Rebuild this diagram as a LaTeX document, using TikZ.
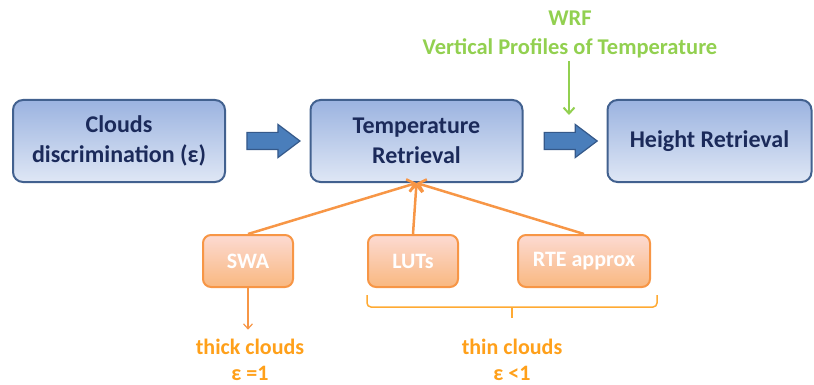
\documentclass[tikz,border=0pt]{standalone}
\usepackage{fontspec}
\setmainfont{Carlito}
\usepackage{tikz}
\usepackage{xcolor}
\usetikzlibrary{arrows.meta,calc,shapes.arrows}
\definecolor{BleuBord}{HTML}{42618F}
\definecolor{BleuHaut}{HTML}{9BB3E0}
\definecolor{BleuBas}{HTML}{DFE7F5}
\definecolor{BleuTexte}{HTML}{1B2A5A}
\definecolor{BleuFleche}{HTML}{4A7EBB}
\definecolor{BleuFlecheBord}{HTML}{35598A}
\definecolor{OrangeBord}{HTML}{F79646}
\definecolor{OrangeHaut}{HTML}{FCDAD2}
\definecolor{OrangeMilieu}{HTML}{F58F40}
\definecolor{OrangeBas}{HTML}{F9B880}
\definecolor{OrangeTexte}{HTML}{FFA01A}
\definecolor{OrangeAccolade}{HTML}{FFAA33}
\definecolor{Vert}{HTML}{92D050}
\tikzset{
BlueBox/.style={
 draw=BleuBord, 
 line width=2pt, 
 rounded corners=10pt, 
 top color=BleuHaut, 
 bottom color=BleuBas, 
 minimum height=82pt, 
 text=BleuTexte, 
 font=\bfseries\fontsize{24}{30}\selectfont, 
 align=center
 },
OrangeBox/.style={
 draw=OrangeBord, 
 line width=2pt, 
 rounded corners=8pt, 
 top color=OrangeHaut, 
 middle color=OrangeMilieu, 
 bottom color=OrangeBas, 
 minimum height=52pt, 
 text=white, 
 font=\bfseries\fontsize{22}{26}\selectfont
 },
BigArrow/.style={
 shape=single arrow, 
 draw=BleuFlecheBord, 
 fill=BleuFleche, 
 line width=1.2pt, 
 inner sep=8pt, 
 minimum height=53pt, 
 single arrow head extend=8pt, 
 single arrow tip angle=74
 },
OrangeLink/.style={
 draw=OrangeBord, 
 line width=2.5pt, 
 -{Straight Barb[length=7pt,width=13pt]}
 },
ThinLink/.style={
 draw=OrangeBord, 
 line width=1.2pt, 
 -{Straight Barb[length=5pt,width=9pt]}
 },
GreenLink/.style={
 draw=Vert, 
 line width=2pt, 
 -{Straight Barb[length=6pt,width=11pt]}
 },
Accolade/.style={
 draw=OrangeAccolade, 
 line width=1.5pt, 
 rounded corners=4pt
 },
Legende/.style={
 text=OrangeTexte, 
 font=\bfseries\fontsize{22}{26}\selectfont, 
 align=center
 }
}
\begin{document}
\begin{tikzpicture}[x=1pt,y=-1pt]
\useasboundingbox (0,0) rectangle (814,385);
% main chain
\node[BlueBox,minimum width=212pt] (clouds) at (119,141) {Clouds\\discrimination (ε)};
\node[BlueBox,minimum width=212pt] (tempret) at (416.5,141) {Temperature\\Retrieval};
\node[BlueBox,minimum width=204pt] (heightret) at (709.5,141) {Height Retrieval};
\node[BigArrow] (fl1) at ($(clouds.east)!0.5!(tempret.west)$) {};
\node[BigArrow] (fl2) at ($(tempret.east)!0.5!(heightret.west)$) {};
% WRF input
\node[text=Vert,font=\bfseries\fontsize{22.5}{29}\selectfont,align=center] (wrf) at (570,34) {WRF\\Vertical Profiles of Temperature};
\coordinate (wrfend) at (569,115);
\draw[GreenLink] (wrf.south -| wrfend) -- (wrfend);
% methods
\node[OrangeBox,minimum width=90pt] (swa) at (248,261) {SWA};
\node[OrangeBox,minimum width=90pt] (luts) at (413,261) {LUTs};
\node[OrangeBox,minimum width=132pt] (rte) at (584,261) {RTE approx};
\draw[OrangeLink] (swa.north) -- (tempret.south);
\draw[OrangeLink] (luts.north) -- (tempret.south);
\draw[OrangeLink] (rte.north) -- (tempret.south);
% cloud types
\node[Legende] (thick) at (250,360) {thick clouds\\ε =1};
\node[Legende] (thin) at (512,360) {thin clouds\\ε <1};
\draw[ThinLink,shorten >=6pt] (swa.south) -- (swa.south |- thick.north);
\draw[Accolade] (367,295) |- (512,307) -| (657,295);
\draw[Accolade] (512,307) -- (512,318);
\end{tikzpicture}
\end{document}
